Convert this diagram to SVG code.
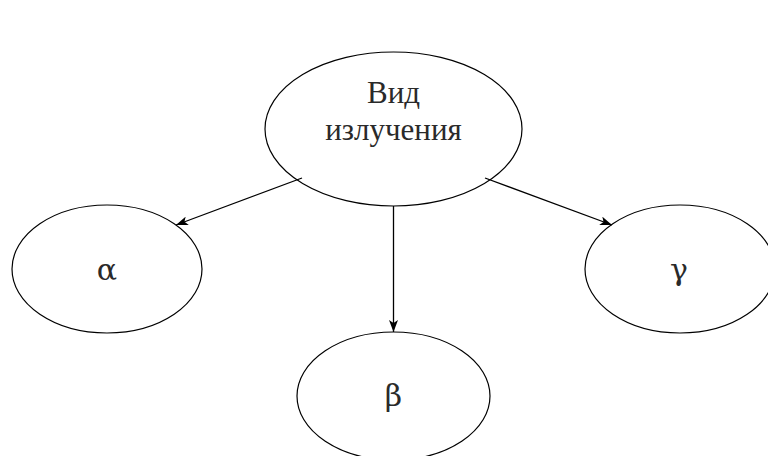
<svg xmlns="http://www.w3.org/2000/svg" width="768" height="456" viewBox="0 0 768 456">
<style>
.n{fill:#fff;stroke:#000;stroke-width:1.2}
.t{font-family:"Liberation Serif","DejaVu Serif",serif;font-size:31px;fill:#2a2a2a;text-anchor:middle}
.g{font-family:"DejaVu Serif","Liberation Serif",serif;font-size:30px;fill:#2a2a2a;text-anchor:middle}
.c{stroke:#000;stroke-width:1.3;fill:none;marker-end:url(#a)}
</style>
<defs>
<marker id="a" viewBox="0 0 12 9" refX="12" refY="4.5" markerWidth="12" markerHeight="9" markerUnits="userSpaceOnUse" orient="auto">
<path d="M0,0 L12,4.5 L0,9 L3,4.5 Z" fill="#000"/>
</marker>
</defs>
<rect width="768" height="456" fill="#fff"/>
<g id="root">
<ellipse class="n" cx="393.5" cy="129" rx="128.5" ry="77"/>
<text class="t" x="393.5" y="103">Вид</text>
<text class="t" x="393.5" y="140">излучения</text>
</g>
<g id="alpha">
<ellipse class="n" cx="107" cy="269" rx="95" ry="64"/>
<text class="g" x="107" y="280">α</text>
</g>
<g id="beta">
<ellipse class="n" cx="393.5" cy="396" rx="96.5" ry="64"/>
<text class="g" x="393.5" y="406">β</text>
</g>
<g id="gamma">
<ellipse class="n" cx="680" cy="269" rx="95" ry="64"/>
<text class="g" x="679" y="280">γ</text>
</g>
<g id="connectors">
<line class="c" x1="302" y1="178" x2="176" y2="225"/>
<line class="c" x1="393.5" y1="206" x2="393.5" y2="332"/>
<line class="c" x1="485" y1="178" x2="612" y2="225"/>
</g>
</svg>
